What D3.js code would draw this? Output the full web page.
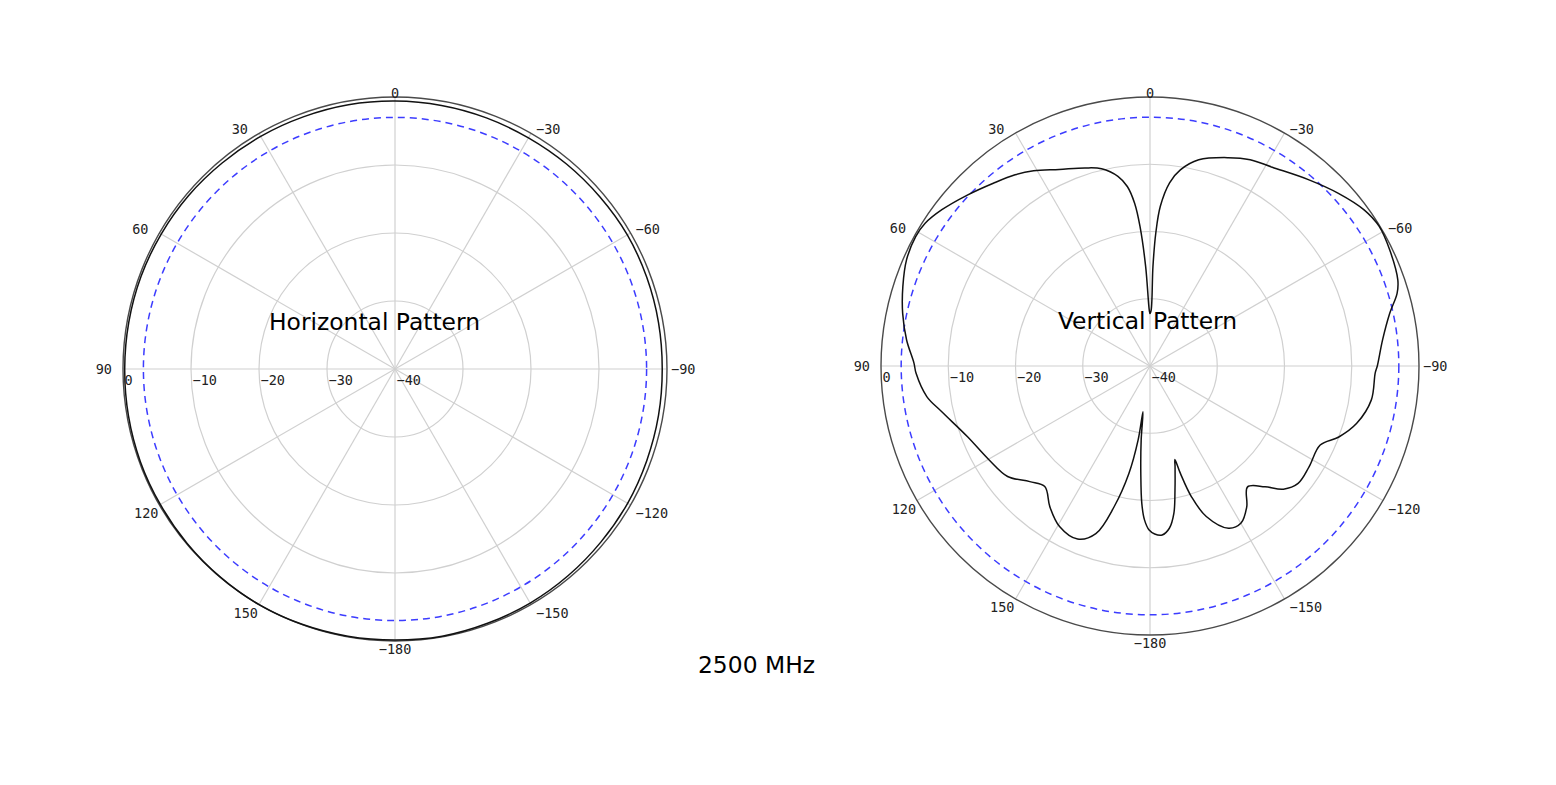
<!DOCTYPE html>
<html><head><meta charset="utf-8">
<script src="https://cdn.jsdelivr.net/npm/d3@7"></script>
<style>body{margin:0;background:#fff;} svg{display:block}</style>
</head><body>
<svg id="c" width="1556" height="785"></svg>
<script>
// ---- data ----
const angleTicks = [0, 30, 60, 90, 120, 150, 180, -150, -120, -90, -60, -30];
const angleTickLabels = ["0", "30", "60", "90", "120", "150", "\u2212180", "\u2212150", "\u2212120", "\u221290", "\u221260", "\u221230"];
const dbTicks = [0, -10, -20, -30, -40];
const dbTickLabels = ["0", "\u221210", "\u221220", "\u221230", "\u221240"];
const gridRings = [-10, -20, -30];
const refLevel = -3;
const titles = ["Horizontal Pattern", "Vertical Pattern"];
const freqLabel = "2500 MHz";

const hAngles = [-180, -170, -160, -150, -140, -130, -120, -110, -100, -90, -80, -70, -60, -50, -40, -30, -20, -10,
  0, 10, 20, 30, 40, 50, 60, 70, 80, 90, 100, 110, 120, 130, 140, 150, 160, 170];
const hGain = [-0.15, -0.1, -0.2, -0.25, -0.35, -0.45, -0.5, -0.6, -0.65, -0.7, -0.65, -0.6, -0.55, -0.65, -0.7, -0.75, -0.7, -0.65,
  -0.6, -0.55, -0.55, -0.5, -0.45, -0.35, -0.3, -0.25, -0.25, -0.25, -0.2, -0.15, -0.15, -0.1, -0.05, 0, -0.05, -0.1];

const vAngles = [-178.4, -175.9, -173.2, -170.8, -168.6, -166.0, -165.1, -164.2, -162.4, -159.5, -154.2, -149.9, -145.5,
  -141.1, -136.4, -132.7, -128.4, -122.3, -114.9, -110.6, -105.5, -98.7, -91.8, -90, -83.6, -77.6, -73.6, -70.9, -64.2,
  -58.6, -53.9, -47.5, -40.5, -31.6, -25.9, -20.6, -13.3, -8.8, -6.1, -3.7, -2.5, -1.7, -1.2, 0, 0.75, 2.5, 4.1, 5.4,
  7.2, 9.6, 13.8, 18.2, 24.8, 30.8, 35.2, 40.6, 46.9, 53.1, 57.6, 61.1, 66.4, 72.2, 78, 83.9, 89.3, 91.8, 97.8, 102.4,
  111.2, 120.3, 127.8, 133.9, 138.9, 144.6, 150.6, 157.3, 162.1, 165.7, 168.9, 170.9, 171.3, 173.2, 175.1, 176.6, 177.95, 179.7];
const vGain = [-15.0, -14.8, -15.7, -17.8, -21.2, -24.6, -25.6, -23.4, -19.6, -16.1, -13.2, -13.0, -14.6,
  -16.9, -15.2, -13.0, -11.9, -12.0, -12.1, -10.0, -8.1, -6.7, -6.5, -6.2, -5.2, -3.5, -1.7, -1.0, -0.4,
  -0.1, -0.6, -2.0, -3.6, -5.3, -5.9, -6.9, -8.5, -10.5, -12.6, -16.2, -20.2, -25.2, -31.7, -32.2, -31.7, -25.2, -19.2, -15.7,
  -13.1, -11.4, -9.8, -9.0, -7.8, -6.2, -5.2, -4.2, -2.8, -1.3, -0.4, -0.2, -0.5, -1.4, -2.4, -3.6, -4.9, -5.2, -6.5, -8.3,
  -10.9, -12.3, -13.2, -15.2, -16.2, -14.3, -12.6, -12.1, -13.8, -18.4, -23.7, -28.9, -33.1, -28.9, -24.0, -19.5, -17.1, -15.6];

// ---- layout ----
const panels = [
  {cx: 395, cy: 369, R: 272, angles: hAngles, gains: hGain, title: titles[0], tx: 374.5, ty: 330},
  {cx: 1150, cy: 366, R: 269, angles: vAngles, gains: vGain, title: titles[1], tx: 1147.5, ty: 329}
];

const svg = d3.select("#c");
const tickFont = "'DejaVu Sans Mono', monospace";
const titleFont = "'DejaVu Sans', Verdana, sans-serif";

panels.forEach(p => {
  const g = svg.append("g").attr("transform", `translate(${p.cx},${p.cy})`);
  const r = d3.scaleLinear().domain([-40, 0]).range([0, p.R]);
  const rad = a => a * Math.PI / 180;
  const px = (a, rr) => -rr * Math.sin(rad(a));
  const py = (a, rr) => -rr * Math.cos(rad(a));

  g.selectAll("circle.ring").data(gridRings).enter().append("circle")
    .attr("r", d => r(d)).attr("fill", "none").attr("stroke", "#d0d0d0").attr("stroke-width", 1.2);
  g.selectAll("line.spoke").data(angleTicks).enter().append("line")
    .attr("x1", 0).attr("y1", 0)
    .attr("x2", d => px(d, r(0))).attr("y2", d => py(d, r(0)))
    .attr("stroke", "#d0d0d0").attr("stroke-width", 1.2);
  g.append("circle").attr("r", r(refLevel)).attr("fill", "none")
    .attr("stroke", "#3c3cff").attr("stroke-width", 1.5).attr("stroke-dasharray", "7,5");
  g.append("circle").attr("r", r(0)).attr("fill", "none")
    .attr("stroke", "#4a4a4a").attr("stroke-width", 1.4);

  const pts = p.angles.map((a, i) => ({a, g: p.gains[i]}));
  const line = d3.lineRadial()
    .angle(d => -rad(d.a))
    .radius(d => r(d.g))
    .curve(d3.curveCatmullRomClosed.alpha(0.5));
  g.append("path").attr("d", line(pts)).attr("fill", "none")
    .attr("stroke", "#111").attr("stroke-width", 1.5);

  angleTicks.forEach((a, i) => {
    const ex = px(a, r(0)), ey = py(a, r(0));
    let x = ex, y = ey, anchor = "middle";
    const norm = ((a % 360) + 360) % 360;
    if (norm === 0) { y = ey - 4.5; }
    else if (norm === 180) { y = ey + 7.5; }
    else if (norm < 180) {
      anchor = "end";
      if (norm < 90) { x = ex - 11; y = ey - 4; }
      else if (norm === 90) { x = ex - 11; y = ey; }
      else { x = ex - 1; y = ey + 8; }
    } else {
      anchor = "start";
      if (norm > 270) { x = ex + 5; y = ey - 4; }
      else if (norm === 270) { x = ex + 4; y = ey; }
      else { x = ex + 5; y = ey + 8; }
    }
    g.append("text").attr("x", x).attr("y", y).attr("text-anchor", anchor)
      .attr("dominant-baseline", "central")
      .attr("font-family", tickFont).attr("font-size", 13.5).attr("fill", "#222")
      .text(angleTickLabels[i]);
  });

  dbTicks.forEach((d, i) => {
    g.append("text").attr("x", -r(d) + 1.5).attr("y", 16)
      .attr("font-family", tickFont).attr("font-size", 13.5).attr("fill", "#222")
      .text(dbTickLabels[i]);
  });

  svg.append("text").attr("x", p.tx).attr("y", p.ty).attr("text-anchor", "middle")
    .attr("font-family", titleFont).attr("font-size", 23.4).attr("fill", "#000")
    .text(p.title);
});

svg.append("text").attr("x", 756.5).attr("y", 673).attr("text-anchor", "middle")
  .attr("font-family", titleFont).attr("font-size", 23.4).attr("fill", "#000")
  .text(freqLabel);
</script>
</body></html>
